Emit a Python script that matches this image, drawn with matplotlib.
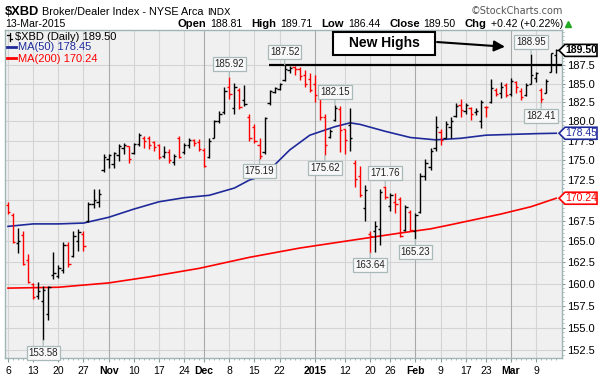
import matplotlib
matplotlib.use("Agg")
import matplotlib.pyplot as plt
from matplotlib import font_manager as fm
from matplotlib.collections import LineCollection
from matplotlib.lines import Line2D
from matplotlib.patches import Polygon, Rectangle
from matplotlib.ticker import FixedLocator, FuncFormatter, NullFormatter
from matplotlib.transforms import IdentityTransform

# ---- $XBD daily bars, 6-Oct-2014 .. 13-Mar-2015 (x = trading day index) ----
opens = [169.4, 168.2, 164.8, 165.8, 162.8, 160.0, 158.6, 158.0, 156.5, 161.0,
         160.9, 161.6, 164.6, 163.3, 165.0, 165.9, 167.5, 169.5, 169.8, 173.8,
         175.2, 174.5, 175.6, 176.6, 176.8, 175.9, 177.1, 177.8, 177.9, 177.3,
         176.9, 175.5, 176.1, 174.8, 177.8, 176.0, 177.0, 177.6, 177.3, 176.3,
         175.4, 177.9, 180.1, 181.2, 184.6, 181.8, 184.2, 182.8, 180.5, 179.2,
         177.0, 176.0, 182.4, 183.9, 184.3, 185.5, 186.8, 187.2, 186.9, 186.2,
         185.6, 185.0, 183.4, 180.6, 178.0, 180.2, 181.6, 179.0, 179.5, 174.7,
         173.0, 169.0, 165.9, 166.2, 166.5, 171.6, 169.3, 169.8, 170.2, 166.4,
         168.6, 166.3, 168.6, 173.0, 174.2, 176.5, 178.6, 177.9, 179.2, 180.7,
         182.2, 181.3, 181.8, 181.2, 180.0, 181.9, 182.6, 184.2, 183.7, 184.8,
         183.6, 185.2, 184.0, 183.5, 185.0, 185.8, 184.2, 183.8, 186.6, 188.81]
highs = [169.8, 168.4, 166.6, 166.3, 163.5, 160.1, 160.2, 159.7, 159.8, 163.7,
         162.2, 164.9, 164.9, 166.2, 166.5, 166.2, 169.8, 171.4, 171.4, 175.8,
         175.8, 176.0, 177.1, 177.2, 176.8, 177.2, 178.5, 178.1, 178.1, 177.5,
         177.1, 176.8, 176.4, 175.8, 178.1, 177.2, 177.8, 177.7, 177.7, 176.6,
         177.8, 180.2, 181.3, 184.6, 185.92, 185.1, 184.4, 184.8, 180.9, 179.6,
         177.8, 180.6, 184.2, 184.6, 185.1, 187.52, 187.4, 187.4, 187.2, 186.8,
         186.4, 186.2, 184.2, 180.9, 179.0, 182.15, 182.0, 179.0, 181.7, 175.0,
         174.3, 171.9, 166.2, 167.4, 171.4, 171.76, 170.9, 170.9, 170.4, 169.4,
         168.8, 168.4, 173.4, 175.1, 176.5, 180.7, 179.0, 180.0, 180.5, 182.4,
         183.0, 182.4, 181.9, 181.8, 182.8, 182.0, 185.6, 184.4, 185.2, 185.1,
         185.7, 185.4, 184.4, 185.1, 188.95, 186.5, 184.4, 185.6, 189.1, 189.71]
lows = [168.3, 164.8, 163.6, 162.2, 160.1, 158.3, 158.3, 153.58, 155.9, 160.6,
        160.7, 161.3, 162.0, 163.1, 163.9, 163.9, 167.3, 169.0, 169.1, 173.5,
        174.0, 174.0, 174.9, 175.8, 174.6, 175.8, 176.8, 176.6, 176.4, 176.2,
        175.2, 175.3, 174.6, 174.4, 175.3, 175.8, 176.6, 176.8, 176.2, 174.1,
        175.3, 177.8, 179.8, 181.0, 183.0, 181.0, 181.6, 182.0, 177.5, 177.2,
        175.19, 175.8, 182.2, 183.8, 184.2, 185.3, 186.4, 186.2, 185.5, 184.5,
        183.9, 182.6, 180.2, 175.62, 177.9, 180.0, 176.0, 175.8, 176.2, 171.6,
        170.4, 167.4, 163.64, 163.7, 164.6, 170.2, 168.7, 168.4, 165.5, 166.3,
        166.2, 165.23, 168.4, 172.5, 173.8, 176.2, 176.9, 177.8, 177.9, 180.6,
        180.6, 180.9, 180.2, 180.8, 179.1, 180.5, 182.4, 183.3, 183.1, 183.2,
        183.4, 183.7, 182.8, 183.3, 184.9, 185.2, 182.41, 183.7, 186.5, 186.44]
closes = [168.6, 164.9, 165.1, 162.3, 160.2, 158.5, 159.2, 159.3, 159.6, 161.2,
          161.9, 164.6, 162.3, 165.6, 166.1, 164.4, 169.5, 170.0, 170.8, 175.4,
          175.6, 175.9, 176.8, 177.0, 175.1, 177.1, 178.2, 177.4, 177.0, 176.7,
          175.4, 176.0, 175.0, 175.5, 175.4, 177.0, 177.6, 177.2, 176.4, 174.3,
          177.5, 180.0, 180.9, 184.0, 183.6, 184.5, 181.9, 182.3, 177.8, 177.4,
          175.5, 180.4, 184.0, 184.4, 185.0, 186.9, 187.1, 186.9, 186.0, 184.9,
          184.1, 183.5, 180.5, 177.0, 178.8, 181.8, 178.9, 177.6, 177.9, 172.6,
          170.6, 171.3, 165.6, 166.8, 171.0, 170.4, 170.6, 169.5, 165.7, 169.2,
          166.4, 168.2, 173.0, 174.6, 176.2, 179.2, 177.6, 179.6, 180.1, 182.0,
          181.5, 182.1, 181.0, 181.4, 182.5, 181.9, 184.4, 183.6, 184.5, 183.5,
          185.3, 184.5, 183.2, 184.8, 186.2, 186.4, 182.9, 185.3, 189.08, 189.50]
prev_close = 170.0

# moving averages at a few bars
ma50_idx = [0, 5, 10, 15, 20, 25, 30, 35, 40, 45, 48, 50, 53, 56, 60, 65, 68,
            70, 75, 80, 85, 90, 95, 100, 105, 109]
ma50 = [166.8, 167.1, 167.1, 167.2, 167.9, 168.9, 169.8, 170.3, 170.6, 171.5,
        172.5, 172.9, 174.4, 176.3, 178.2, 179.3, 179.8, 179.6, 178.7, 177.9,
        177.6, 177.8, 178.2, 178.3, 178.4, 178.45]
ma200_idx = [0, 10, 20, 28, 38, 48, 58, 68, 78, 84, 88, 98, 104, 109]
ma200 = [159.5, 159.6, 160.1, 160.8, 161.8, 163.1, 164.2, 165.1, 166.0, 166.5,
         167.0, 168.3, 169.2, 170.24]

tick_idx = [0, 5, 10, 15, 20, 25, 30, 35, 39, 44, 49, 54, 61, 67, 72, 76, 81,
            86, 91, 95, 100, 105]
tick_lbl = ["6", "13", "20", "27", "Nov", "10", "17", "24", "Dec", "8", "15",
            "22", "2015", "12", "20", "26", "Feb", "9", "17", "23", "Mar", "9"]
months = ["Nov", "Dec", "2015", "Feb", "Mar"]
price_ticks = [152.5, 155.0, 157.5, 160.0, 162.5, 165.0, 167.5, 170.0, 172.5,
               175.0, 177.5, 180.0, 182.5, 185.0, 187.5]

hi_marks = [44, 55, 65, 75, 104]
lo_marks = [7, 50, 63, 72, 81, 106]

# ---- fonts ----
names = {f.name for f in fm.fontManager.ttflist}
if "Liberation Sans Narrow" in names:
    NAR, k = "Liberation Sans Narrow", 1.0
else:
    NAR, k = "Liberation Sans", 0.84
plt.rcParams["font.family"] = ["Liberation Sans", "DejaVu Sans"]

W, H = 604, 375
L, R, T, B = 5, 562, 29.5, 358


def fx(x):
    return x / W


def fy(y):
    return 1 - y / H


fig = plt.figure(figsize=(W / 100, H / 100), dpi=100)
ax = fig.add_axes([L / W, 1 - B / H, (R - L) / W, (B - T) / H])
ax.set_facecolor("#f0f0f0")
ax.set_yscale("log")
ax.set_ylim(151.62, 192.39)
ax.set_xlim(-0.6, 110.14)

# grid
for v in price_ticks:
    ax.axhline(v, color="#d4d4d4", lw=0.8, zorder=0)
for i, t in zip(tick_idx, tick_lbl):
    ax.axvline(i, color="#a9a9a9" if t in months else "#d4d4d4", lw=0.8, zorder=0)

# price bars (red = close below previous close)
segs, cols = [], []
prev = prev_close
for i, (o, h, l, c) in enumerate(zip(opens, highs, lows, closes)):
    col = "#ff0000" if c < prev else "#000000"
    segs += [[(i, l), (i, h)], [(i - 0.45, o), (i, o)], [(i, c), (i + 0.45, c)]]
    cols += [col] * 3
    prev = c
ax.add_collection(LineCollection(segs, colors=cols, linewidths=1.0, zorder=3))

ax.plot(ma50_idx, ma50, color="#1f2a9a", lw=1.2, zorder=2)
ax.plot(ma200_idx, ma200, color="#ff0000", lw=1.2, zorder=2)

# resistance line at the December high
ax.hlines(highs[55], 51.9, 110.14, color="black", lw=1.6, zorder=4)

# high / low callouts
for i in hi_marks + lo_marks:
    up = i in hi_marks
    v = highs[i] if up else lows[i]
    ax.annotate(f"{v:.2f}", xy=(i, v), xytext=(0, 5.5 if up else -5.5),
                textcoords="offset points", ha="center",
                va="bottom" if up else "top", fontsize=7, color="#222222",
                bbox=dict(boxstyle="square,pad=0.2", fc="#f8f8f8", ec="#a9b9b9", lw=0.9),
                arrowprops=dict(arrowstyle="-", color="#a9b9b9", lw=0.9,
                                shrinkA=0, shrinkB=0), zorder=6)

# "New Highs" note
bx0, bx1, by0, by1 = 333, 435, 32, 55
ax.add_patch(Rectangle(((bx0 - L) / (R - L), (B - by1) / (B - T)),
                       (bx1 - bx0) / (R - L), (by1 - by0) / (B - T),
                       transform=ax.transAxes, fc="white", ec="black", lw=1.5, zorder=7))
ax.text(((bx0 + bx1) / 2 - L) / (R - L), (B - (by0 + by1) / 2) / (B - T), "New Highs",
        transform=ax.transAxes, ha="center", va="center", fontsize=10,
        fontweight="bold", zorder=8)
ax.annotate("", xy=(98.8, 190.0), xytext=(85.3, 190.65),
            arrowprops=dict(arrowstyle="-|>", color="black", lw=1.5,
                            mutation_scale=16, shrinkA=0, shrinkB=0), zorder=8)

# price tags shown on the right axis
tags = [(closes[-1], "black", True), (ma50[-1], "#1f2a9a", False),
        (ma200[-1], "#ff0000", False)]


def ylabel(v, pos):
    # the tick label sitting right under a tag is covered by it
    if any(abs(v - t[0]) < 0.5 for t in tags):
        return ""
    return f"{v:.1f}"


# axes styling
for s in ax.spines.values():
    s.set_color("#9fb5b5")
    s.set_linewidth(1.0)
ax.yaxis.tick_right()
ax.yaxis.set_major_locator(FixedLocator(price_ticks))
ax.yaxis.set_major_formatter(FuncFormatter(ylabel))
ax.yaxis.set_minor_locator(FixedLocator([151.5 + 0.5 * n for n in range(82)]))
ax.yaxis.set_minor_formatter(NullFormatter())
ax.tick_params(axis="y", which="major", length=2.5, width=0.8, color="#8a9a9a",
               pad=1, labelsize=8)
ax.tick_params(axis="y", which="minor", length=1.2, width=0.6, color="#9aaaaa")
ax.set_xticks(tick_idx)
ax.set_xticklabels(tick_lbl)
for t in ax.get_xticklabels():
    if t.get_text() in months:
        t.set_fontweight("bold")
ax.xaxis.set_minor_locator(FixedLocator(range(len(closes))))
ax.tick_params(axis="x", which="major", length=3, width=0.8, color="#8a9a9a",
               pad=2.5, labelsize=7.5)
ax.tick_params(axis="x", which="minor", length=1.5, width=0.6, color="#9aaaaa")

for val, col, bold in tags:
    y = ax.transData.transform((0, val))[1]
    x0, x1, x2, hh = 559, 565, 597, 6
    pts = [(x0, y), (x1, y + hh), (x2, y + hh), (x2, y - hh), (x1, y - hh)]
    fig.add_artist(Polygon(pts, closed=True, transform=IdentityTransform(),
                           fc="white", ec=col, lw=1.2, zorder=5))
    fig.text((x1 + x2) / 2 / W, y / H, f"{val:.2f}", ha="center", va="center",
             fontsize=7.5, color=col, fontweight="bold" if bold else "normal", zorder=6)

# legend inside the plot
fig.add_artist(Line2D([fx(9.5), fx(9.5)], [fy(33), fy(41)], color="black", lw=0.9))
fig.add_artist(Line2D([fx(7), fx(9.5)], [fy(35), fy(35)], color="black", lw=0.9))
fig.add_artist(Line2D([fx(9.5), fx(12)], [fy(39), fy(39)], color="black", lw=0.9))
fig.text(fx(15), fy(40.5), f"$XBD (Daily) {closes[-1]:.2f}", fontsize=8,
         va="baseline", parse_math=False)
fig.add_artist(Line2D([fx(7), fx(16)], [fy(46.7), fy(46.7)], color="#1f2a9a", lw=2))
fig.text(fx(17.5), fy(50.2), f"MA(50) {ma50[-1]:.2f}", fontsize=8,
         va="baseline", color="#1f2a9a")
fig.add_artist(Line2D([fx(7), fx(16)], [fy(58.3), fy(58.3)], color="#ff0000", lw=2))
fig.text(fx(17.5), fy(61.8), f"MA(200) {ma200[-1]:.2f}", fontsize=8,
         va="baseline", color="#ff0000")

# header
fig.text(fx(5), fy(15), "$XBD", family=[NAR, "DejaVu Sans"], fontsize=11 * k,
         fontweight="bold", va="baseline", parse_math=False)
fig.text(fx(42), fy(15), "Broker/Dealer Index - NYSE Arca", family=[NAR, "DejaVu Sans"],
         fontsize=9.3 * k, va="baseline")
fig.text(fx(207), fy(15), "INDX", family=["DejaVu Sans"], fontsize=6.8, va="baseline")
fig.text(fx(563), fy(14), "\u00a9StockCharts.com", family=["DejaVu Sans"], fontsize=7,
         color="#555555", ha="right", va="baseline")
fig.text(fx(5), fy(27), "13-Mar-2015", family=[NAR, "DejaVu Sans"], fontsize=9 * k,
         va="baseline")

chg = closes[-1] - closes[-2]
pieces = [("Open", True), (f"{opens[-1]:.2f}", False),
          ("High", True), (f"{highs[-1]:.2f}", False),
          ("Low", True), (f"{lows[-1]:.2f}", False),
          ("Close", True), (f"{closes[-1]:.2f}", False),
          ("Chg", True), (f"{chg:+.2f} ({chg / closes[-2] * 100:+.2f}%)", False)]
renderer = fig.canvas.get_renderer()
x = 177
for s, bold in pieces:
    t = fig.text(fx(x), fy(27), s, family=[NAR, "DejaVu Sans"],
                 fontsize=(9.6 if bold else 9) * k,
                 fontweight="bold" if bold else "normal", va="baseline")
    x += t.get_window_extent(renderer).width + (4 if bold else 9)
fig.add_artist(Line2D([fx(x - 4)], [fy(24)], marker="^", markersize=5,
                      color="#22aa22", lw=0))

fig.savefig("out.png", dpi=100)
